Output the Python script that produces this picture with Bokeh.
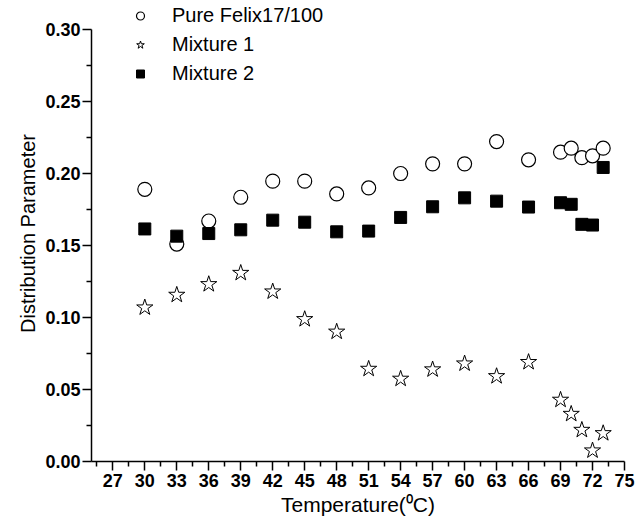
from bokeh.plotting import figure
from bokeh.models import FixedTicker, PrintfTickFormatter, Legend, LegendItem, Range1d
from bokeh.embed import file_html
from bokeh.resources import INLINE

temps = [30, 33, 36, 39, 42, 45, 48, 51, 54, 57, 60, 63, 66, 69, 70, 71, 72, 73]
pure_felix = [0.189, 0.151, 0.167, 0.1835, 0.1947, 0.1947, 0.1858, 0.190, 0.200, 0.2067,
              0.2067, 0.2222, 0.2095, 0.2148, 0.2176, 0.211, 0.2123, 0.2176]
mixture1 = [0.1069, 0.1157, 0.1231, 0.1309, 0.118, 0.0988, 0.0901, 0.0643, 0.0574, 0.0639,
            0.068, 0.0592, 0.069, 0.0428, 0.033, 0.0219, 0.0076, 0.0196]
mixture2 = [0.1615, 0.1565, 0.1583, 0.1609, 0.1676, 0.1662, 0.1595, 0.160, 0.1695, 0.1769,
            0.1831, 0.1808, 0.1767, 0.1797, 0.1786, 0.1647, 0.1642, 0.2042]

x_ticks = [27, 30, 33, 36, 39, 42, 45, 48, 51, 54, 57, 60, 63, 66, 69, 72, 75]
x_minor = [25.5, 28.5, 31.5, 34.5, 37.5, 40.5, 43.5, 46.5, 49.5, 52.5, 55.5, 58.5, 61.5,
           64.5, 67.5, 70.5, 73.5]
y_ticks = [0.0, 0.05, 0.10, 0.15, 0.20, 0.25, 0.30]
y_minor = [0.025, 0.075, 0.125, 0.175, 0.225, 0.275]

FONT = "Liberation Sans"

p = figure(width=635, height=521, frame_width=533, frame_height=456,
           min_border_left=91, min_border_right=11, min_border_top=5, min_border_bottom=60,
           x_range=Range1d(25, 75), y_range=Range1d(0, 0.31667),
           output_backend="svg", toolbar_location=None)
p.outline_line_color = None
p.grid.visible = False
p.background_fill_color = "white"
p.border_fill_color = "white"

r1 = p.scatter(temps, pure_felix, marker="circle", size=14, fill_color="white",
               line_color="black", line_width=1.2)
r2 = p.scatter(temps, mixture1, marker="star", size=17, fill_color="white",
               line_color="black", line_width=1.0)
r3 = p.scatter(temps, mixture2, marker="square", size=12, fill_color="black",
               line_color="black")

for ax in (p.xaxis[0], p.yaxis[0]):
    ax.axis_line_color = "black"
    ax.axis_line_width = 1.5
    ax.major_tick_line_width = 1.5
    ax.minor_tick_line_width = 1.5
    ax.major_tick_out = 9
    ax.major_tick_in = 0
    ax.minor_tick_out = 5
    ax.minor_tick_in = 0
    ax.major_label_text_font = FONT
    ax.major_label_text_font_style = "bold"
    ax.major_label_text_font_size = "18px"
    ax.major_label_text_color = "black"
    ax.axis_label_text_font = FONT
    ax.axis_label_text_font_style = "normal"
    ax.axis_label_text_color = "black"

p.xaxis.axis_label_text_font_size = "21px"
p.yaxis.axis_label_text_font_size = "20px"
p.xaxis.ticker = FixedTicker(ticks=x_ticks, minor_ticks=x_minor)
p.yaxis.ticker = FixedTicker(ticks=y_ticks, minor_ticks=y_minor)
p.yaxis.bounds = (0, 0.30)
p.yaxis.formatter = PrintfTickFormatter(format="%.2f")
p.xaxis.axis_label = "Temperature(\u2070C)"
p.yaxis.axis_label = "Distribution Parameter"
p.xaxis.major_label_standoff = 3
p.yaxis.major_label_standoff = 2
p.xaxis.axis_label_standoff = 3
p.yaxis.axis_label_standoff = 3

legend = Legend(items=[LegendItem(label="Pure Felix17/100", renderers=[r1]),
                       LegendItem(label="Mixture 1", renderers=[r2]),
                       LegendItem(label="Mixture 2", renderers=[r3])],
                location=(39, 376), orientation="vertical",
                border_line_color=None, background_fill_alpha=0,
                padding=0, margin=0, spacing=6,
                glyph_width=20, glyph_height=21, label_height=21,
                label_standoff=22,
                label_text_font=FONT, label_text_font_size="20px",
                label_text_color="black")
p.add_layout(legend)

open("out.html", "w").write(file_html(p, INLINE))
